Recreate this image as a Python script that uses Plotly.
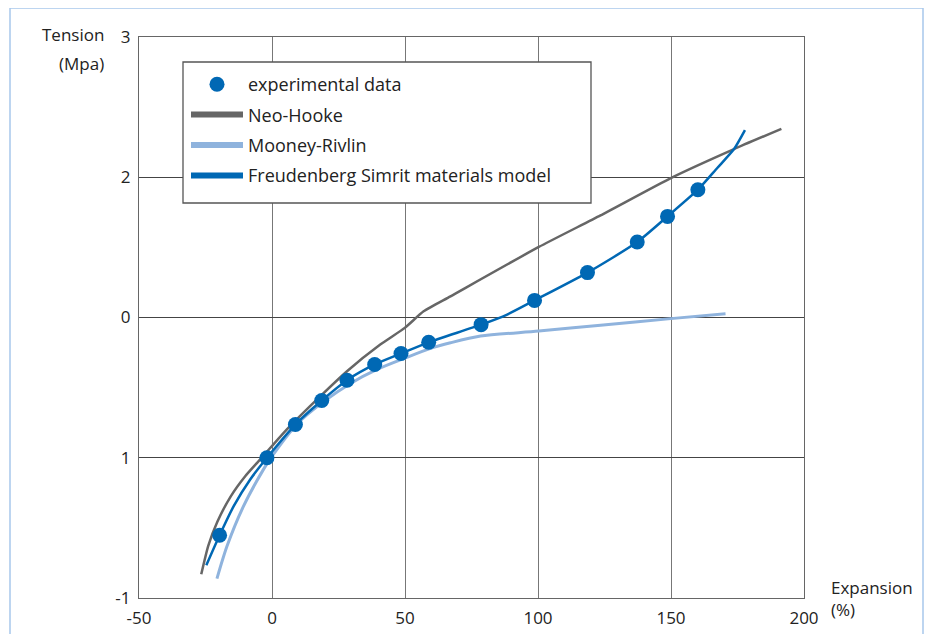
import plotly.graph_objects as go

# ---- data ----
exp_x = [-19.7, -1.9, 8.8, 18.7, 28.2, 38.6, 48.5, 58.9, 78.6, 98.7, 118.6, 137.3, 148.7, 160.1]
exp_y = [-0.553, 0.0, 0.237, 0.408, 0.553, 0.665, 0.743, 0.823, 0.949, 1.122, 1.320, 1.538, 1.721, 1.911]

neo_x = [-26.6, -24.0, -20.5, -15.5, -10.0, -5.6, -0.6, 5.6, 18.2, 28.2, 40.7, 49.9, 57.0, 67.1, 100.3, 123.5, 150.1, 173.7, 191.5]
neo_y = [-0.831, -0.630, -0.455, -0.275, -0.130, -0.036, 0.071, 0.202, 0.439, 0.617, 0.807, 0.926, 1.044, 1.151, 1.503, 1.728, 1.996, 2.201, 2.345]

mr_x = [-20.7, -16.9, -10.7, -3.2, 0.0, 9.4, 19.4, 29.5, 39.5, 49.9, 59.6, 67.1, 78.4, 100.3, 123.5, 149.9, 170.5]
mr_y = [-0.862, -0.630, -0.345, -0.083, 0.011, 0.240, 0.400, 0.530, 0.630, 0.710, 0.780, 0.820, 0.868, 0.903, 0.945, 0.992, 1.026]

fr_x = [-24.7, -19.7, -14.4, -8.2, -1.9, 8.8, 18.7, 28.2, 38.6, 48.5, 58.9, 78.6, 88.4, 98.7, 118.6, 137.3, 148.7, 160.1, 167.4, 173.7, 177.8]
fr_y = [-0.767, -0.553, -0.345, -0.155, 0.0, 0.237, 0.408, 0.553, 0.665, 0.743, 0.823, 0.949, 1.021, 1.122, 1.320, 1.538, 1.721, 1.911, 2.066, 2.201, 2.336]

x_ticks = [-50, 0, 50, 100, 150, 200]
x_labels = ["-50", "0", "50", "100", "150", "200"]
y_ticks = [-1, 0, 1, 2, 3]
y_labels = ["-1", "1", "0", "2", "3"]

names = ["experimental data", "Neo-Hooke", "Mooney-Rivlin", "Freudenberg Simrit materials model"]

C_GRAY = "#666666"
C_LIGHT = "#8fb3dd"
C_BLUE = "#0068b4"
FONT = "Open Sans"

fig = go.Figure()

fig.add_trace(go.Scatter(x=mr_x, y=mr_y, mode="lines", showlegend=False,
                         line=dict(color=C_LIGHT, width=3, shape="spline", smoothing=0.8)))
fig.add_trace(go.Scatter(x=neo_x, y=neo_y, mode="lines", showlegend=False,
                         line=dict(color=C_GRAY, width=2.5, shape="spline", smoothing=0.5)))
fig.add_trace(go.Scatter(x=fr_x, y=fr_y, mode="lines", showlegend=False,
                         line=dict(color=C_BLUE, width=2.5, shape="spline", smoothing=0.6)))
fig.add_trace(go.Scatter(x=exp_x, y=exp_y, mode="markers", name=names[0], legendgroup="a",
                         marker=dict(color=C_BLUE, size=15)))

for nm, col, grp in [(names[1], C_GRAY, "b"), (names[2], C_LIGHT, "c"), (names[3], C_BLUE, "d")]:
    fig.add_trace(go.Scatter(x=[None], y=[None], mode="lines", name=nm, legendgroup=grp,
                             line=dict(color=col, width=6)))

# page has an 8px body margin; figure coordinates are offset by it
OFF = 8
W, H = 932 - OFF, 634 - OFF
L, R, T, B = 139 - OFF, 128, 37 - OFF, 36
pw, ph = W - L - R, H - T - B

def px(x):
    return (x - OFF - L) / pw

def py(y):
    return (H - B - (y - OFF)) / ph

fig.update_layout(
    width=W, height=H,
    margin=dict(l=L, r=R, t=T, b=B, autoexpand=False),
    paper_bgcolor="white", plot_bgcolor="white",
    font=dict(family=FONT, size=17, color="#222222"),
    showlegend=True,
    legend=dict(x=px(183), y=py(66), xanchor="left", yanchor="top",
                bgcolor="rgba(0,0,0,0)", borderwidth=0,
                font=dict(family=FONT, size=18, color="#222222"),
                itemwidth=52, indentation=3,
                tracegroupgap=4, traceorder="grouped"),
    xaxis=dict(range=[-50, 200], tickvals=x_ticks, ticktext=x_labels,
               showgrid=True, gridcolor="#777777", gridwidth=1.3,
               showline=True, linecolor="#666666", linewidth=1.3, mirror=True,
               zeroline=False, ticks="", fixedrange=True, ticklabelstandoff=4,
               automargin=False),
    yaxis=dict(range=[-1, 3], tickvals=y_ticks, ticktext=y_labels,
               showgrid=True, gridcolor="#444444", gridwidth=1.3,
               showline=True, linecolor="#666666", linewidth=1.3, mirror=True,
               zeroline=False, ticks="", fixedrange=True, ticklabelstandoff=4,
               automargin=False),
    hovermode=False,
)

fig.add_annotation(text="Tension", x=px(106), y=py(35), xref="paper", yref="paper",
                   xanchor="right", yanchor="middle", showarrow=False)
fig.add_annotation(text="(Mpa)", x=px(106), y=py(64), xref="paper", yref="paper",
                   xanchor="right", yanchor="middle", showarrow=False)
fig.add_annotation(text="Expansion", x=px(829), y=py(587), xref="paper", yref="paper",
                   xanchor="left", yanchor="middle", showarrow=False)
fig.add_annotation(text="(%)", x=px(829), y=py(609), xref="paper", yref="paper",
                   xanchor="left", yanchor="middle", showarrow=False)

# legend frame
fig.add_shape(type="rect", xref="paper", yref="paper",
              x0=px(183), x1=px(591), y0=py(203), y1=py(62),
              line=dict(color="#555555", width=1.3), fillcolor="white", layer="above")

# outer light-blue frame
fig.add_shape(type="rect", xref="paper", yref="paper",
              x0=px(10), x1=px(923), y0=py(660), y1=py(8),
              line=dict(color="#a8c8ec", width=1.5), layer="below")

fig.write_html("out.html")
